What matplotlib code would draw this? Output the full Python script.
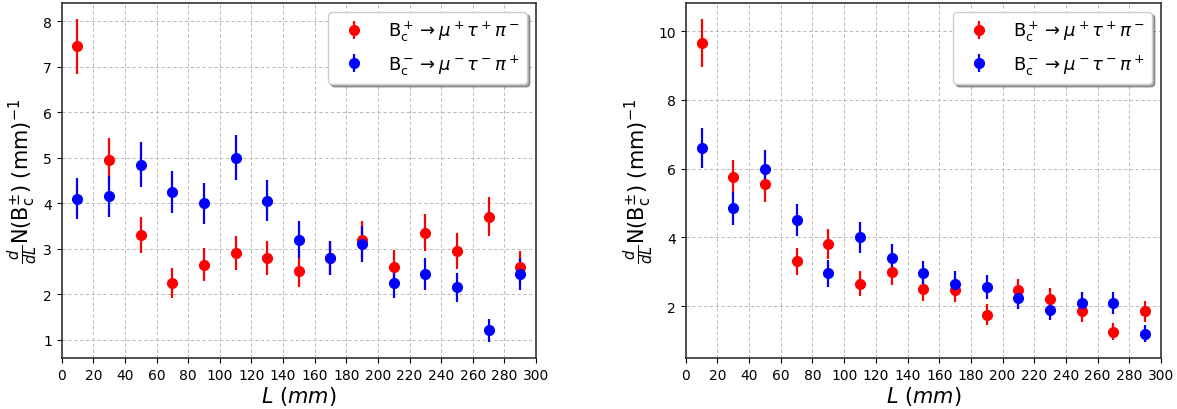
import numpy as np
import matplotlib
matplotlib.use("Agg")
import matplotlib.pyplot as plt

# decay length bins (mm)
L = np.arange(10, 300, 20)

# left: first sample
left_plus      = [7.45, 4.95, 3.30, 2.25, 2.65, 2.90, 2.80, 2.50, 2.80, 3.20, 2.60, 3.35, 2.95, 3.70, 2.60]
left_plus_err  = [0.60, 0.48, 0.40, 0.33, 0.36, 0.38, 0.37, 0.35, 0.37, 0.40, 0.36, 0.41, 0.39, 0.43, 0.35]
left_minus     = [4.10, 4.15, 4.85, 4.25, 4.00, 5.00, 4.05, 3.20, 2.80, 3.10, 2.25, 2.45, 2.15, 1.20, 2.45]
left_minus_err = [0.45, 0.45, 0.50, 0.46, 0.45, 0.50, 0.45, 0.40, 0.37, 0.40, 0.33, 0.35, 0.32, 0.25, 0.35]

# right: second sample
right_plus      = [9.65, 5.75, 5.55, 3.30, 3.80, 2.65, 3.00, 2.50, 2.46, 1.75, 2.46, 2.20, 1.85, 1.25, 1.85]
right_plus_err  = [0.70, 0.50, 0.52, 0.40, 0.43, 0.36, 0.39, 0.35, 0.35, 0.30, 0.34, 0.33, 0.32, 0.25, 0.31]
right_minus     = [6.60, 4.85, 6.00, 4.50, 2.95, 4.00, 3.40, 2.95, 2.65, 2.55, 2.25, 1.90, 2.10, 2.10, 1.20]
right_minus_err = [0.57, 0.48, 0.54, 0.47, 0.38, 0.45, 0.40, 0.37, 0.36, 0.35, 0.33, 0.31, 0.32, 0.32, 0.24]

lab_plus  = r"$\mathrm{B_c^+}\rightarrow\mu^+\tau^+\pi^-$"
lab_minus = r"$\mathrm{B_c^-}\rightarrow\mu^-\tau^-\pi^+$"

fig = plt.figure(figsize=(11.77, 4.10), dpi=100)
ax1 = fig.add_axes([0.0524, 0.1244, 0.403, 0.866])
ax2 = fig.add_axes([0.5826, 0.1244, 0.4038, 0.866])

panels = [
    (ax1, left_plus, left_plus_err, left_minus, left_minus_err, np.arange(1, 9)),
    (ax2, right_plus, right_plus_err, right_minus, right_minus_err, np.arange(2, 11, 2)),
]

for ax, yp, ep, ym, em, yt in panels:
    ax.errorbar(L, yp, yerr=ep, fmt="o", color="red", ms=7,
                elinewidth=1.6, capsize=0, label=lab_plus)
    ax.errorbar(L, ym, yerr=em, fmt="o", color="blue", ms=7,
                elinewidth=1.6, capsize=0, label=lab_minus)
    ax.set_xlim(0, 300)
    ax.set_xticks(np.arange(0, 301, 20))
    ax.set_yticks(yt)
    ax.tick_params(labelsize=10)
    ax.grid(True, linestyle=(0, (4, 3)), color="#b0b0b0", linewidth=0.6)
    for sp in ax.spines.values():
        sp.set_linewidth(1.2)
        sp.set_color("#333333")
    ax.set_xlabel(r"$L\ (mm)$", fontsize=15, labelpad=2)
    ax.set_ylabel(r"$\frac{d}{dL}$N(B$_\mathrm{c}^{\pm}$) (mm)$^{-1}$", fontsize=15, labelpad=2)
    ax.legend(loc="upper right", fontsize=13, shadow=True, framealpha=1,
              handletextpad=0.9)

fig.savefig("out.png", dpi=100)
